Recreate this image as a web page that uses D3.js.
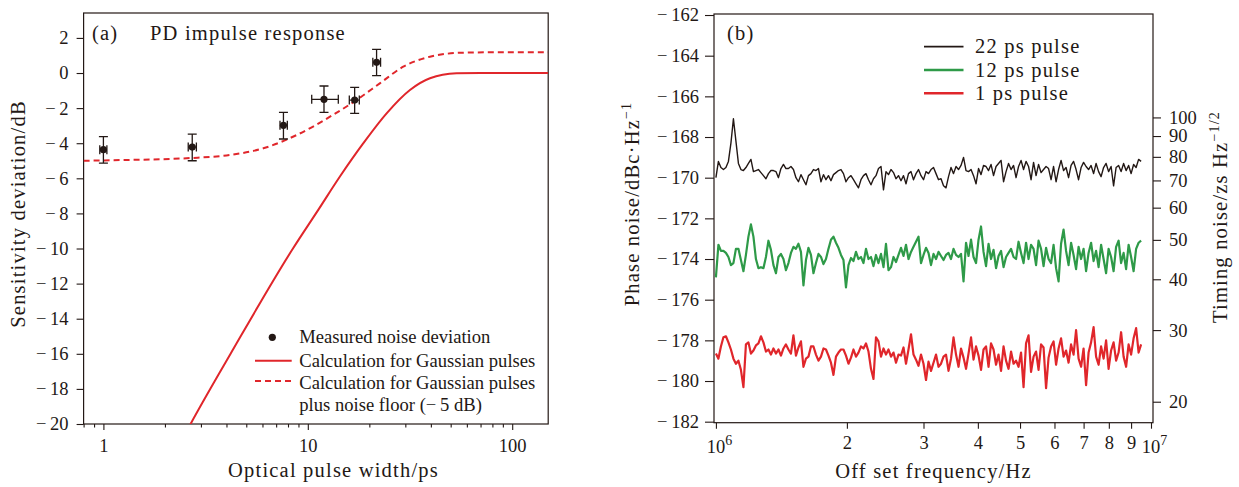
<!DOCTYPE html>
<meta charset="utf-8">
<script src="https://d3js.org/d3.v7.min.js"></script>
<style>
body { margin: 0; background: #fff; }
svg text { font-family: "Liberation Serif", "Times New Roman", serif; fill: #231815; }
.tick text { font-size: 18.5px; }
.tick line { stroke: #231815; stroke-width: 1.1px; }
.frame { fill: none; stroke: #231815; stroke-width: 1.2px; }
.cm { font-size: 20.5px; letter-spacing: 1.2px; }
.leg { font-size: 18.6px; }
.err { stroke: #231815; stroke-width: 1.3px; fill: none; }
</style>
<body>
<script>

// ---- panel (a) data: measured points with error bars
let measWidth = [1.0, 2.72, 7.6, 12.0, 16.95, 21.7];
let measDev   = [-4.37, -4.22, -2.98, -1.5, -1.54, 0.61];
let measXLo   = [0.96, 2.6, 7.31, 10.45, 15.96, 20.8];
let measXHi   = [1.04, 2.85, 7.94, 14.1, 17.86, 22.7];
let measYLo   = [-5.13, -5.0, -3.76, -2.24, -2.30, -0.15];
let measYHi   = [-3.63, -3.48, -2.24, -0.74, -0.82, 1.35];

// calculation for Gaussian pulses
let gaussWidth = [2.4, 2.67, 4.19, 8.46, 11.25, 14.36, 18.7, 24.3, 31.6, 39.6, 53.4, 70, 150];
let gaussDev   = [-21.0, -20, -16.0, -10.0, -7.8, -5.9, -4.0, -2.3, -0.97, -0.3, -0.02, 0, 0];

// plus noise floor (-5 dB)
let floorWidth = [0.8, 1, 2.72, 4.17, 6.06, 8.83, 12.84, 17.3, 22.5, 29.3, 39.6, 57.5, 80, 150];
let floorDev   = [-5.0, -4.98, -4.84, -4.67, -4.29, -3.53, -2.49, -1.54, -0.59, 0.36, 0.93, 1.16, 1.18, 1.18];

let yTicksA = [2, 0, -2, -4, -6, -8, -10, -12, -14, -16, -18, -20];
let xTicksA = [1, 10, 100];
let xMinorA = [0.8, 0.9, 2, 3, 4, 5, 6, 7, 8, 9, 20, 30, 40, 50, 60, 70, 80, 90];

// ---- panel (b) data: phase noise traces, log-spaced samples from freqStart to freqStop
let freqStart = 1e6, freqStop = 9.49e6;

let trace22 = [
  -170.0, -169.2, -169.5, -169.6, -169.5, -169.2, -168.3, -167.1, -168.2, -169.3, -169.6, -169.65, -169.5, -169.3, -169.1, -169.7,
  -169.65, -169.6, -169.75, -169.9, -170.05, -169.8, -169.65, -169.65, -169.7, -170.0, -169.55, -169.35, -169.55, -169.55, -169.45,
  -169.6, -170.0, -170.2, -169.85, -170.1, -170.35, -169.9, -169.8, -169.6, -169.65, -169.55, -170.2, -169.85, -170.1, -169.9, -170.15,
  -169.85, -169.75, -169.65, -169.6, -169.8, -170.2, -170.0, -169.9, -170.1, -170.3, -170.5, -170.1, -169.9, -169.8, -170.1, -170.35,
  -170.05, -169.9, -169.55, -169.45, -170.6,
  -169.7, -169.85, -169.6, -169.75, -170.05, -169.9, -170.15, -169.9, -170.3, -169.8, -169.7, -170.1, -169.8, -169.6, -169.9, -170.1,
  -169.7, -169.8, -169.6, -169.5, -169.8, -170.1, -170.05, -170.4, -170.5, -169.95, -169.5, -169.8, -169.45, -169.6, -169.4, -169.0,
  -169.65, -169.7, -169.6, -169.9,
  -170.3, -169.55, -169.85, -169.4, -169.45, -169.65, -169.35, -169.9, -169.45, -169.3, -169.15, -170.2, -169.7, -169.3, -169.6, -169.4,
  -170.0, -169.45, -169.15, -169.6, -169.2, -169.45, -170.1, -169.25, -169.9, -169.35, -169.75, -169.6, -169.45, -169.55, -170.1, -169.45,
  -170.2, -169.6, -169.15, -169.65,
  -169.5, -170.0, -169.4, -169.2, -169.6, -170.1, -169.5, -169.25, -169.45, -169.6, -169.4, -169.8, -169.3, -169.7, -169.95, -169.5,
  -169.3, -169.7, -169.45, -170.4, -169.5, -169.4, -169.7, -169.3, -169.65, -169.4, -169.8, -169.35, -169.5, -169.1, -169.2
];

let trace12 = [
  -174.9, -173.3, -173.6, -173.6, -173.7, -173.9, -174.3, -174.2, -173.5, -173.5, -174.05, -174.6, -173.8, -172.9, -172.3, -172.9,
  -174.0, -174.45, -174.4, -174.45, -173.9, -173.1, -173.55, -174.3, -174.7, -173.9, -173.75, -174.0, -174.55, -174.2, -173.7,
  -173.4, -173.5, -173.25, -173.65, -175.3, -174.05, -173.45, -173.8, -174.7, -174.2, -173.75, -173.9, -174.25, -174.0, -173.5, -173.05,
  -172.9, -173.2, -173.45, -173.8, -174.05, -175.4, -174.3, -173.95, -174.1, -173.65, -174.0, -173.9, -174.2, -173.5, -174.0, -173.9,
  -174.35, -173.8, -174.2, -173.75, -174.4,
  -173.25, -174.55, -174.4, -173.9, -174.15, -173.8, -173.45, -173.85, -173.3, -174.0, -173.65, -173.4, -173.15, -172.9, -174.2, -173.8,
  -173.45, -173.7, -174.3, -173.75, -174.0, -173.65, -173.85, -174.05, -173.8, -173.7, -174.0, -173.5, -173.8, -173.9, -173.75, -175.1,
  -173.2, -173.85, -173.05, -173.9,
  -174.2, -173.05, -172.4, -173.65, -174.35, -173.25, -174.0, -173.55, -174.45, -173.85, -173.6, -174.4, -173.9, -173.7, -173.5, -173.9,
  -174.0, -173.15, -173.7, -174.2, -173.2, -174.0, -173.3, -173.5, -174.3, -173.1, -173.5, -174.35, -173.45, -174.0, -174.2, -173.3,
  -174.45, -175.1, -173.25, -172.55,
  -173.6, -174.3, -173.2, -173.8, -174.5, -173.4, -174.0, -173.5, -174.6, -173.7, -173.2, -174.1, -173.6, -174.4, -173.3, -174.0,
  -174.7, -173.5, -173.9, -174.6, -173.4, -173.1, -174.2, -173.7, -174.5, -173.3, -173.9, -174.6, -173.5, -173.2, -173.1
];

let trace1 = [
  -178.65, -178.9, -178.3, -177.85, -177.8, -178.1, -178.45, -178.9, -179.15, -179.0, -179.45, -180.3, -178.2, -178.1, -178.65, -178.5,
  -178.25, -178.15, -177.8, -178.1, -178.55, -178.45, -178.7, -178.4, -178.65, -178.45, -178.75, -178.4, -178.2, -178.45, -178.65,
  -177.75, -178.75, -178.35, -178.05, -179.3, -178.9, -178.8, -178.3, -178.3, -178.7, -179.0, -178.8, -178.4, -178.45, -178.75, -179.1,
  -179.7, -178.8, -178.6, -178.45, -178.45, -178.75, -179.15, -178.85, -178.45, -178.8, -178.6, -178.3, -178.4, -178.15, -178.55, -179.4,
  -179.9, -177.85, -178.05, -178.8, -178.4,
  -178.7, -178.45, -178.8, -178.6, -179.1, -178.7, -178.75, -178.35, -179.15, -178.45, -177.7, -178.7, -178.95, -179.25, -178.7, -179.15,
  -179.95, -179.05, -179.5, -179.1, -178.7, -179.3, -179.15, -178.8, -178.7, -179.5, -178.9, -177.85, -178.7, -179.3, -178.4, -178.85,
  -179.4, -178.65, -177.85, -178.95,
  -178.3, -178.75, -179.45, -178.45, -178.3, -179.3, -178.15, -178.45, -179.2, -178.7, -179.5, -178.3, -179.0, -179.4, -178.55, -179.15,
  -179.0, -179.3, -178.6, -180.3, -178.15, -177.75, -179.55, -178.8, -178.55, -179.45, -178.2, -178.35, -180.35, -178.85, -178.3, -178.05,
  -179.2, -178.4, -177.9, -178.8,
  -178.5, -179.1, -178.2, -178.7, -177.5, -178.9, -179.3, -178.4, -180.2, -178.6, -178.1, -177.35, -178.8, -179.2, -178.3, -178.9,
  -178.0, -179.4, -178.5, -178.1, -179.0, -178.6, -177.6, -178.8, -179.3, -178.2, -178.7, -177.9, -177.4, -178.6, -178.2
];

let traceNames  = ["22 ps pulse", "12 ps pulse", "1 ps pulse"];
let traceColors = ["#231815", "#2e9a48", "#e0262b"];
let traceWidths = [1.4, 2.2, 2.2];

let yTicksB = [-162, -164, -166, -168, -170, -172, -174, -176, -178, -180, -182];
let xTicksB = [1e6, 2e6, 3e6, 4e6, 5e6, 6e6, 7e6, 8e6, 9e6, 1e7];
let yTicksR = [20, 30, 40, 50, 60, 70, 80, 90, 100];

let red = "#e0262b";

function minusFmt(d) {
  return d < 0 ? "\u2212\u2009" + Math.abs(d) : String(d);
}

let svg = d3.select("body").append("svg")
    .attr("width", 1239)
    .attr("height", 487);

// =================== panel (a) ===================
let xa = d3.scaleLog().domain([0.8, 150]).range([83.6, 548.2]);
let ya = d3.scaleLinear().domain([-20, 3.42]).range([424, 13]);

let ga = svg.append("g");

ga.append("clipPath").attr("id", "clipA")
  .append("rect")
    .attr("x", xa.range()[0]).attr("y", ya.range()[1])
    .attr("width", xa.range()[1] - xa.range()[0])
    .attr("height", ya.range()[0] - ya.range()[1]);

// axes
let axA = ga.append("g")
    .attr("transform", "translate(0," + ya.range()[0] + ")")
    .call(d3.axisBottom(xa).tickValues(xTicksA).tickSize(6).tickPadding(4).tickFormat(d3.format("d")));
axA.select(".domain").remove();
axA.selectAll(".tick text").attr("y", 28).attr("dy", 0);

let axAm = ga.append("g")
    .attr("transform", "translate(0," + ya.range()[0] + ")")
    .call(d3.axisBottom(xa).tickValues(xMinorA).tickSize(3.5).tickFormat(""));
axAm.select(".domain").remove();

let ayA = ga.append("g")
    .attr("transform", "translate(" + xa.range()[0] + ",0)")
    .call(d3.axisLeft(ya).tickValues(yTicksA).tickSize(7).tickPadding(8).tickFormat(minusFmt));
ayA.select(".domain").remove();

ga.append("rect").attr("class", "frame")
    .attr("x", xa.range()[0]).attr("y", ya.range()[1])
    .attr("width", xa.range()[1] - xa.range()[0])
    .attr("height", ya.range()[0] - ya.range()[1]);

// curves
let lineA = d3.line()
    .x(function(d) { return xa(d[0]); })
    .y(function(d) { return ya(d[1]); })
    .curve(d3.curveMonotoneX);

let plotA = ga.append("g").attr("clip-path", "url(#clipA)");

plotA.append("path")
    .datum(d3.zip(gaussWidth, gaussDev))
    .attr("d", lineA)
    .attr("fill", "none")
    .attr("stroke", red)
    .attr("stroke-width", 2);

plotA.append("path")
    .datum(d3.zip(floorWidth, floorDev))
    .attr("d", lineA)
    .attr("fill", "none")
    .attr("stroke", red)
    .attr("stroke-width", 2)
    .attr("stroke-dasharray", "6,4");

// measured points
let meas = measWidth.map(function(w, i) {
  return {x: w, y: measDev[i], xl: measXLo[i], xh: measXHi[i], yl: measYLo[i], yh: measYHi[i]};
});

let pts = ga.append("g").selectAll("g").data(meas).enter().append("g");
pts.append("path").attr("class", "err")
    .attr("d", function(d) {
      let cx = xa(d.x), cy = ya(d.y), c = 4.5;
      return "M" + cx + "," + ya(d.yl) + "V" + ya(d.yh) +
             "M" + (cx - c) + "," + ya(d.yl) + "H" + (cx + c) +
             "M" + (cx - c) + "," + ya(d.yh) + "H" + (cx + c) +
             "M" + xa(d.xl) + "," + cy + "H" + xa(d.xh) +
             "M" + xa(d.xl) + "," + (cy - c) + "V" + (cy + c) +
             "M" + xa(d.xh) + "," + (cy - c) + "V" + (cy + c);
    });
pts.append("circle")
    .attr("cx", function(d) { return xa(d.x); })
    .attr("cy", function(d) { return ya(d.y); })
    .attr("r", 3.6)
    .attr("fill", "#231815");

// labels
ga.append("text").attr("class", "cm").attr("x", 92).attr("y", 40).text("(a)");
ga.append("text").attr("class", "cm").attr("x", 150).attr("y", 40).text("PD impulse response");
ga.append("text").attr("class", "cm")
    .attr("text-anchor", "middle")
    .attr("x", 333.5).attr("y", 477)
    .text("Optical pulse width/ps");
ga.append("text").attr("class", "cm")
    .attr("text-anchor", "middle")
    .attr("transform", "translate(25,214) rotate(-90)")
    .text("Sensitivity deviation/dB");

// legend (a)
let legA = ga.append("g");
legA.append("circle").attr("cx", 272.3).attr("cy", 337.3).attr("r", 3.6).attr("fill", "#231815");
legA.append("line").attr("x1", 255).attr("x2", 291.7).attr("y1", 360.7).attr("y2", 360.7)
    .attr("stroke", red).attr("stroke-width", 2);
legA.append("line").attr("x1", 255).attr("x2", 291.7).attr("y1", 381).attr("y2", 381)
    .attr("stroke", red).attr("stroke-width", 2).attr("stroke-dasharray", "6,4");
let legTextA = ["Measured noise deviation", "Calculation for Gaussian pulses",
                "Calculation for Gaussian pulses", "plus noise floor (\u2212\u20095 dB)"];
let legYA = [342.7, 366.5, 388.5, 411];
legTextA.forEach(function(t, i) {
  legA.append("text").attr("class", "leg").attr("x", 299.3).attr("y", legYA[i]).text(t);
});

// =================== panel (b) ===================
let xb = d3.scaleLog().domain([Math.pow(10, 5.9956), Math.pow(10, 7.0046)]).range([714, 1153]);
let yb = d3.scaleLinear().domain([-182.05, -161.95]).range([422.7, 14]);
let yr = d3.scaleLog().domain([17.76, 179.6]).range([422.7, 14]);

let gb = svg.append("g");

gb.append("clipPath").attr("id", "clipB")
  .append("rect")
    .attr("x", xb.range()[0]).attr("y", yb.range()[1])
    .attr("width", xb.range()[1] - xb.range()[0])
    .attr("height", yb.range()[0] - yb.range()[1]);

let axB = gb.append("g")
    .attr("transform", "translate(0," + yb.range()[0] + ")")
    .call(d3.axisBottom(xb).tickValues(xTicksB).tickSize(6).tickFormat(""));
axB.select(".domain").remove();
axB.selectAll(".tick").each(function(d) {
  let t = d3.select(this).append("text")
      .attr("fill", "#231815")
      .attr("text-anchor", "middle");
  let e = Math.round(Math.log10(d));
  if (Math.abs(d - Math.pow(10, e)) < 1) {
    t.attr("y", 30).attr("x", 3);
    t.append("tspan").text("10");
    t.append("tspan").attr("dy", -8).attr("font-size", "14px").text(e);
  } else {
    t.attr("y", 26).text(Math.round(d / 1e6));
  }
});

let ayB = gb.append("g")
    .attr("transform", "translate(" + xb.range()[0] + ",0)")
    .call(d3.axisLeft(yb).tickValues(yTicksB).tickSize(9).tickPadding(6).tickFormat(minusFmt));
ayB.select(".domain").remove();

let ayR = gb.append("g")
    .attr("transform", "translate(" + xb.range()[1] + ",0)")
    .call(d3.axisRight(yr).tickValues(yTicksR).tickSize(8).tickPadding(8).tickFormat(d3.format("d")));
ayR.select(".domain").remove();

gb.append("rect").attr("class", "frame")
    .attr("x", xb.range()[0]).attr("y", yb.range()[1])
    .attr("width", xb.range()[1] - xb.range()[0])
    .attr("height", yb.range()[0] - yb.range()[1]);

let traces = [trace22, trace12, trace1];
function freqAt(i, n) {
  return freqStart * Math.pow(freqStop / freqStart, i / (n - 1));
}
let lineB = d3.line()
    .x(function(d, i, arr) { return xb(freqAt(i, arr.length)); })
    .y(function(d) { return yb(d); });

let plotB = gb.append("g").attr("clip-path", "url(#clipB)");
traces.forEach(function(tr, k) {
  plotB.append("path")
      .datum(tr)
      .attr("d", lineB)
      .attr("fill", "none")
      .attr("stroke", traceColors[k])
      .attr("stroke-width", traceWidths[k])
      .attr("stroke-linejoin", "round");
});

// legend (b)
let legYB = [46.7, 70, 93.3];
traceNames.forEach(function(name, k) {
  gb.append("line")
      .attr("x1", 924).attr("x2", 963.5)
      .attr("y1", legYB[k]).attr("y2", legYB[k])
      .attr("stroke", traceColors[k]).attr("stroke-width", traceWidths[k] + 0.3);
  gb.append("text").attr("class", "cm")
      .attr("x", 975).attr("y", legYB[k] + 6.5)
      .text(name);
});

gb.append("text").attr("class", "cm").attr("x", 727).attr("y", 40).text("(b)");

gb.append("text").attr("class", "cm")
    .attr("text-anchor", "middle")
    .attr("x", 933.5).attr("y", 478)
    .text("Off set frequency/Hz");

let tl = gb.append("text").attr("class", "cm")
    .attr("text-anchor", "middle")
    .attr("transform", "translate(639,204) rotate(-90)");
tl.append("tspan").text("Phase noise/dBc\u00b7Hz");
tl.append("tspan").attr("dy", -8).attr("font-size", "14px").text("\u22121");

let tr = gb.append("text").attr("class", "cm")
    .attr("text-anchor", "middle")
    .attr("transform", "translate(1227,217) rotate(-90)");
tr.append("tspan").text("Timing noise/zs Hz");
tr.append("tspan").attr("dy", -8).attr("font-size", "14px").text("\u22121/2");

</script>
